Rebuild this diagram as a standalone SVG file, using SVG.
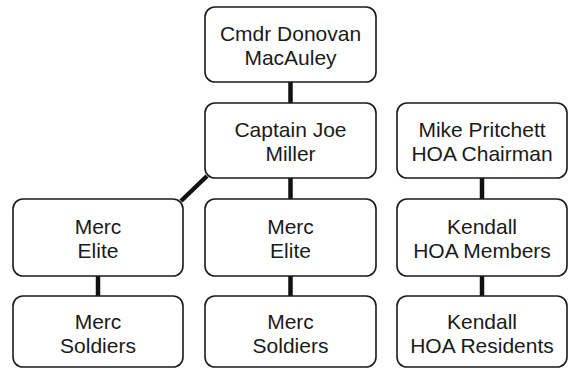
<svg xmlns="http://www.w3.org/2000/svg" width="569" height="369" viewBox="0 0 569 369">
<style>
.box{fill:#fff;stroke:#1a1a1a;stroke-width:1.6}
.t{font-family:"Liberation Sans",Arial,sans-serif;font-size:21px;fill:#1a1a1a;text-anchor:middle}
.c{stroke:#111;stroke-width:4.5;fill:none}
</style>
<rect width="569" height="369" fill="#fff"/>
<g id="connectors">
<line class="c" x1="290.5" y1="82" x2="290.5" y2="103"/>
<line class="c" x1="290.5" y1="178" x2="290.5" y2="199"/>
<line class="c" x1="290.5" y1="276" x2="290.5" y2="296"/>
<line class="c" x1="98" y1="276" x2="98" y2="296"/>
<line class="c" x1="482" y1="178" x2="482" y2="199"/>
<line class="c" x1="482" y1="276" x2="482" y2="296"/>
<line class="c" x1="181" y1="201" x2="207" y2="176"/>
</g>
<g id="n1"><rect class="box" x="205" y="7" width="171" height="75" rx="10"/><text class="t" x="290.5" y="41">Cmdr Donovan</text><text class="t" x="290.5" y="65">MacAuley</text></g>
<g id="n2"><rect class="box" x="205" y="103" width="171" height="75" rx="10"/><text class="t" x="290.5" y="137">Captain Joe</text><text class="t" x="290.5" y="161">Miller</text></g>
<g id="n3"><rect class="box" x="13" y="199" width="170" height="77" rx="10"/><text class="t" x="98" y="234">Merc</text><text class="t" x="98" y="258">Elite</text></g>
<g id="n4"><rect class="box" x="205" y="199" width="171" height="77" rx="10"/><text class="t" x="290.5" y="234">Merc</text><text class="t" x="290.5" y="258">Elite</text></g>
<g id="n5"><rect class="box" x="13" y="296" width="170" height="71" rx="10"/><text class="t" x="98" y="329">Merc</text><text class="t" x="98" y="353">Soldiers</text></g>
<g id="n6"><rect class="box" x="205" y="296" width="171" height="71" rx="10"/><text class="t" x="290.5" y="329">Merc</text><text class="t" x="290.5" y="353">Soldiers</text></g>
<g id="n7"><rect class="box" x="397" y="103" width="170" height="75" rx="10"/><text class="t" x="482" y="137">Mike Pritchett</text><text class="t" x="482" y="161">HOA Chairman</text></g>
<g id="n8"><rect class="box" x="397" y="199" width="170" height="77" rx="10"/><text class="t" x="482" y="234">Kendall</text><text class="t" x="482" y="258">HOA Members</text></g>
<g id="n9"><rect class="box" x="397" y="296" width="170" height="71" rx="10"/><text class="t" x="482" y="329">Kendall</text><text class="t" x="482" y="353">HOA Residents</text></g>
</svg>
